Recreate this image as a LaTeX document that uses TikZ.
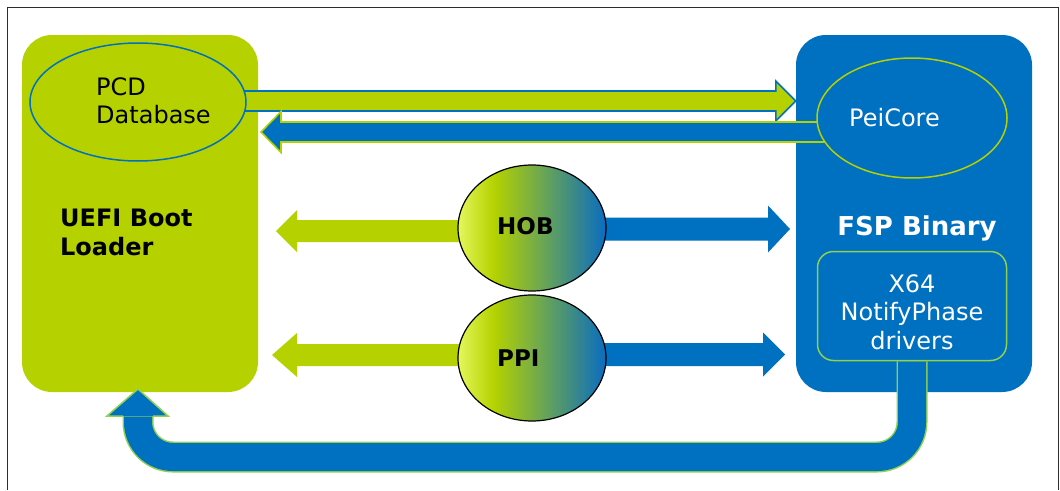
\documentclass[tikz,border=0pt]{standalone}
\usepackage{fontspec}
\setmainfont{DejaVu Sans}
\usetikzlibrary{shapes.geometric,calc}

\definecolor{uefigreen}{RGB}{181,210,0}
\definecolor{fspblue}{RGB}{0,112,192}
\definecolor{edgegreen}{RGB}{146,208,80}
\definecolor{framegray}{RGB}{45,45,45}
\definecolor{shadeL}{RGB}{228,247,90}
\definecolor{shadeR}{RGB}{10,108,192}

\pgfdeclarehorizontalshading{hobshade}{100bp}{color(0bp)=(shadeL); color(25bp)=(shadeL); color(37bp)=(uefigreen); color(75bp)=(shadeR); color(100bp)=(shadeR)}

\pgfdeclarelayer{back}
\pgfdeclarelayer{mid}
\pgfsetlayers{back,mid,main}

% block arrow: style, start, tip, shaft half width, head half width, signed head length
\newcommand\barrow[6]{%
  \draw[#1] let \p1=(#2), \p2=(#3) in
    (\x1,{\y1+#4}) -- ({\x2-(#6)},{\y1+#4}) -- ({\x2-(#6)},{\y1+#5}) -- (\x2,\y1)
    -- ({\x2-(#6)},{\y1-#5}) -- ({\x2-(#6)},{\y1-#4}) -- (\x1,{\y1-#4}) -- cycle;}

\begin{document}
\begin{tikzpicture}[x=1pt,y=-1pt,
  box/.style={rounded corners=30pt, minimum width=236pt, minimum height=357pt, inner sep=0pt},
  txt/.style={font=\fontsize{24}{28.5}\selectfont, inner sep=0pt},
  boldtxt/.style={font=\fontsize{24}{29}\selectfont\bfseries, inner sep=0pt},
  hobtxt/.style={font=\fontsize{23}{27}\selectfont\bfseries, inner sep=0pt},
  orb/.style={ellipse, draw=black, line width=1.2pt, shade, shading=hobshade,
    minimum width=148pt, minimum height=126pt, inner sep=0pt},
  greenarrow/.style={fill=uefigreen, draw=fspblue, line width=1.6pt},
  bluearrow/.style={fill=fspblue, draw=uefigreen, line width=1.6pt},
  plaingreen/.style={fill=uefigreen, draw=none},
  plainblue/.style={fill=fspblue, draw=none}]

\useasboundingbox (0,0) rectangle (1060,490);

% outer frame
\draw[framegray, line width=1.6pt] (7.5,490) -- (7.5,7.5) -- (1058.5,7.5) -- (1058.5,490);

% the two main blocks
\begin{pgfonlayer}{back}
  \node[box, fill=uefigreen] (uefi) at (140,213.5) {};
  \node[box, fill=fspblue] (fsp) at (914,213.5) {};
\end{pgfonlayer}

% ellipses inside the blocks
\node[ellipse, draw=fspblue, line width=1.5pt, fill=uefigreen, minimum width=216pt,
  minimum height=118pt, inner sep=0pt] (pcd) at (138,102) {};
\node[ellipse, draw=uefigreen, line width=1.5pt, fill=fspblue, minimum width=190pt,
  minimum height=120pt, inner sep=0pt] (pei) at (912,118) {};

% HOB and PPI
\node[orb] (hob) at (532,228) {};
\node[orb] (ppi) at (532,358) {};

% X64 driver box
\node[draw=edgegreen, line width=1.5pt, rounded corners=16pt, minimum width=189pt,
  minimum height=109pt, inner sep=0pt] (x64) at (912,306) {};

% arrow tips
\coordinate (t1) at (fsp.west |- 0,101);
\coordinate (t2) at (261,132);
\coordinate (t3) at (276,231);
\coordinate (t4) at (790,229);
\coordinate (t5) at (272,355);
\coordinate (t6) at (785,354.5);
\coordinate (loopL) at (138,457);
\coordinate (loopTip) at (138,389);

\begin{pgfonlayer}{mid}
  \barrow{greenarrow}{pcd.center |- t1}{t1}{10pt}{20pt}{20pt}
  \barrow{bluearrow}{pei.center |- t2}{t2}{10pt}{20.5pt}{-20pt}
  \barrow{plaingreen}{hob.center |- t3}{t3}{11pt}{21pt}{-21pt}
  \barrow{plainblue}{hob.center |- t4}{t4}{11.5pt}{23.5pt}{22pt}
  \barrow{plaingreen}{ppi.center |- t5}{t5}{11pt}{22pt}{-25pt}
  \barrow{plainblue}{ppi.center |- t6}{t6}{11.5pt}{22pt}{22pt}

  % return path from the X64 drivers back to the boot loader
  \draw[edgegreen, line width=31pt, rounded corners=35pt]
    (x64.south) -- (x64.south |- loopL) -- (loopL) -- (loopL |- 0,416);
  \draw[fspblue, line width=28pt, rounded corners=35pt]
    (x64.south) -- (x64.south |- loopL) -- (loopL) -- (loopL |- 0,416.5);
  \fill[fspblue] (107,416) -- (loopTip) -- (168,416) -- cycle;
  \draw[edgegreen, line width=1.5pt, line join=miter]
    (123,416) -- (107,416) -- (loopTip) -- (168,416) -- (153,416);
\end{pgfonlayer}

% labels
\node[txt, anchor=west, align=left] (pcdt) at (96,101) {PCD\\Database};
\node[boldtxt, anchor=west, align=left] (uefit) at (60,232) {UEFI Boot\\Loader};
\node[font=\fontsize{26}{30}\selectfont\bfseries, inner sep=0pt, text=white, anchor=base] (fspt) at (917,235) {FSP Binary};
\node[txt, text=white, anchor=base west] (peit) at (849,126) {PeiCore};
\node[txt, text=white, align=center] (x64t) at (912,312) {X64\\NotifyPhase\\drivers};
\node[hobtxt, anchor=base west] (hobt) at (497,234) {HOB};
\node[hobtxt, anchor=base west] (ppit) at (497,366) {PPI};

\end{tikzpicture}
\end{document}
